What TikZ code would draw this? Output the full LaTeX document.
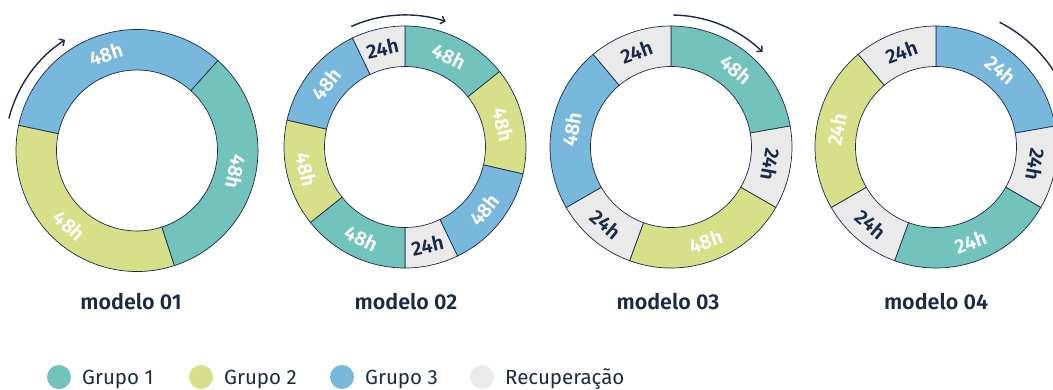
\documentclass[tikz,border=0pt]{standalone}
\usepackage{fontspec}
\setmainfont{Fira Sans}[BoldFont={Fira Sans SemiBold}]
\usetikzlibrary{arrows.meta}
\definecolor{gone}{HTML}{72C3BC}
\definecolor{gtwo}{HTML}{D7E088}
\definecolor{gthree}{HTML}{78B8DC}
\definecolor{grec}{HTML}{EAEAEA}
\definecolor{navy}{HTML}{1B2A45}
\tikzset{
 segline/.style={draw=navy, line width=0.7pt},
 seglab/.style={font=\bfseries\fontsize{20}{20}\selectfont, inner sep=0pt},
 lightlab/.style={seglab, text=white},
 darklab/.style={seglab, text=navy},
 cyclearrow/.style={draw=navy, line width=1.4pt, -{Straight Barb[length=4pt,width=8pt]}},
 modeltitle/.style={font=\bfseries\fontsize{21.5}{21.5}\selectfont, text=navy, anchor=base},
 legdot/.style={circle, minimum size=24pt, inner sep=0pt},
 legtext/.style={font=\fontsize{20.5}{20.5}\selectfont, text=navy, anchor=base west, inner sep=0pt},
}
% start angle, end angle, fill, label, rotation, label style
\newcommand\dseg[6]{%
 \path[segline, fill=#3] (#1:121pt) arc[start angle=#1, end angle=#2, radius=121pt]
   -- (#2:80.5pt) arc[start angle=#2, end angle=#1, radius=80.5pt] -- cycle;
 \node[#6, rotate=#5] at ({(#1+#2)/2}:101pt) {#4};
}
\begin{document}
\begin{tikzpicture}
\useasboundingbox (0pt,0pt) rectangle (1053pt,-389pt);
% modelo 01
\begin{scope}[shift={(137pt,-150.5pt)}]
 \dseg{168}{48}{gthree}{48h}{18}{lightlab}
 \dseg{288}{168}{gtwo}{48h}{-42}{lightlab}
 \dseg{48}{-72}{gone}{48h}{-102}{lightlab}
 \draw[cyclearrow] (166:132pt) arc[start angle=166, end angle=123, radius=132pt];
\end{scope}
% modelo 02
\begin{scope}[shift={(405pt,-147pt)}]
 \dseg{90}{38.571}{gone}{48h}{-25.71}{lightlab}
 \dseg{38.571}{-12.857}{gtwo}{48h}{-77.14}{lightlab}
 \dseg{-12.857}{-64.286}{gthree}{48h}{51.43}{lightlab}
 \dseg{-64.286}{-90}{grec}{24h}{12.86}{darklab}
 \dseg{-90}{-141.429}{gone}{48h}{-25.71}{lightlab}
 \dseg{-141.429}{-192.857}{gtwo}{48h}{-77.14}{lightlab}
 \dseg{-192.857}{-244.286}{gthree}{48h}{51.43}{lightlab}
 \dseg{-244.286}{-270}{grec}{24h}{12.86}{darklab}
 \draw[cyclearrow] (114:132pt) arc[start angle=114, end angle=72, radius=132pt];
\end{scope}
% modelo 03
\begin{scope}[shift={(671pt,-147pt)}]
 \dseg{90}{10}{gone}{48h}{-40}{lightlab}
 \dseg{10}{-30}{grec}{24h}{-100}{darklab}
 \dseg{-30}{-110}{gtwo}{48h}{20}{lightlab}
 \dseg{-110}{-150}{grec}{24h}{-40}{darklab}
 \dseg{-150}{-230}{gthree}{48h}{80}{lightlab}
 \dseg{-230}{-270}{grec}{24h}{20}{darklab}
 \draw[cyclearrow] (89:132pt) arc[start angle=89, end angle=46, radius=132pt];
\end{scope}
% modelo 04
\begin{scope}[shift={(936pt,-147pt)}]
 \dseg{90}{10}{gthree}{24h}{-40}{lightlab}
 \dseg{10}{-30}{grec}{24h}{-100}{darklab}
 \dseg{-30}{-110}{gone}{24h}{20}{lightlab}
 \dseg{-110}{-150}{grec}{24h}{-40}{darklab}
 \dseg{-150}{-230}{gtwo}{24h}{80}{lightlab}
 \dseg{-230}{-270}{grec}{24h}{20}{darklab}
 \draw[cyclearrow] (63:140pt) arc[start angle=63, end angle=22, radius=140pt];
\end{scope}
% titles
\node[modeltitle] (t1) at (131pt,-309pt) {modelo 01};
\node[modeltitle] (t2) at (406pt,-309pt) {modelo 02};
\node[modeltitle] (t3) at (668pt,-309pt) {modelo 03};
\node[modeltitle] (t4) at (936pt,-309pt) {modelo 04};
% legend
\node[legdot, fill=gone] (l1) at (59pt,-377pt) {};
\node[legtext] (lt1) at (82pt,-384pt) {Grupo 1};
\node[legdot, fill=gtwo] (l2) at (201pt,-377pt) {};
\node[legtext] (lt2) at (224pt,-384pt) {Grupo 2};
\node[legdot, fill=gthree] (l3) at (342pt,-377pt) {};
\node[legtext] (lt3) at (365pt,-384pt) {Grupo 3};
\node[legdot, fill=grec] (l4) at (482pt,-377pt) {};
\node[legtext] (lt4) at (505pt,-384pt) {Recuperação};
\end{tikzpicture}
\end{document}
